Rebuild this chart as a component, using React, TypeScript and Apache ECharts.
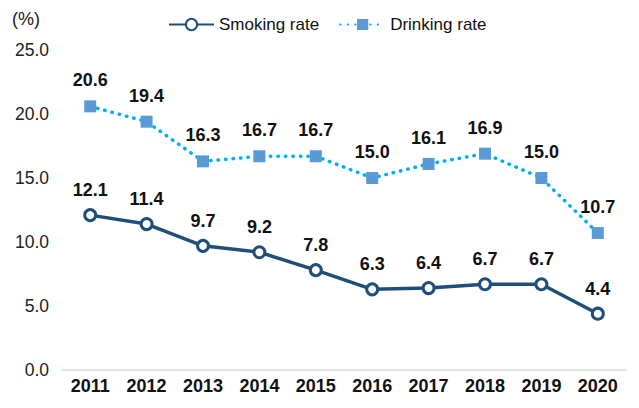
import React, { useEffect, useRef } from "react";
import * as echarts from "echarts";

const years = ["2011", "2012", "2013", "2014", "2015", "2016", "2017", "2018", "2019", "2020"];
const smoking = [12.1, 11.4, 9.7, 9.2, 7.8, 6.3, 6.4, 6.7, 6.7, 4.4];
const drinking = [20.6, 19.4, 16.3, 16.7, 16.7, 15.0, 16.1, 16.9, 15.0, 10.7];

export default function App() {
  const ref = useRef<HTMLDivElement>(null);
  useEffect(() => {
    const chart = echarts.init(ref.current!, null, { renderer: "svg" });
    const font = "'Liberation Sans', Arial, sans-serif";
    chart.setOption({
      animation: false,
      textStyle: { fontFamily: font },
      legend: {
        top: 11,
        left: 163,
        itemWidth: 45,
        itemHeight: 14,
        itemGap: 20,
        textStyle: { fontSize: 17, color: "#111", fontFamily: font },
        data: ["Smoking rate", "Drinking rate"],
      },
      graphic: [
        {
          type: "text",
          left: 12,
          top: 10,
          style: { text: "(%)", fontSize: 18, fill: "#222", fontFamily: font },
        },
      ],
      grid: { left: 62, right: 13, top: 50, bottom: 38 },
      xAxis: {
        type: "category",
        data: years,
        boundaryGap: true,
        axisLine: { lineStyle: { color: "#d9d9d9", width: 1.5 } },
        axisTick: { show: false },
        axisLabel: { fontSize: 18, fontWeight: "bold", color: "#111", margin: 7, fontFamily: font },
      },
      yAxis: {
        type: "value",
        min: 0,
        max: 25,
        interval: 5,
        splitLine: { show: false },
        axisLine: { show: false },
        axisTick: { show: false },
        axisLabel: {
          fontSize: 17.5,
          color: "#222",
          margin: 13,
          fontFamily: font,
          formatter: (v: number) => v.toFixed(1),
        },
      },
      series: [
        {
          name: "Smoking rate",
          type: "line",
          data: smoking,
          symbol: "circle",
          symbolSize: 11,
          itemStyle: { color: "#fff", borderColor: "#1F4E79", borderWidth: 3 },
          lineStyle: { color: "#1F4E79", width: 3.5 },
          label: {
            show: true,
            position: "top",
            distance: 9,
            fontSize: 18,
            fontWeight: "bold",
            color: "#111",
            fontFamily: font,
            formatter: (p: any) => p.value.toFixed(1),
          },
        },
        {
          name: "Drinking rate",
          type: "line",
          data: drinking,
          symbol: "rect",
          symbolSize: 12,
          itemStyle: { color: "#5B9BD5" },
          lineStyle: { color: "#00B0F0", width: 3.5, type: [0.5, 7], cap: "round" },
          label: {
            show: true,
            position: "top",
            distance: 11,
            fontSize: 18,
            fontWeight: "bold",
            color: "#111",
            fontFamily: font,
            formatter: (p: any) => p.value.toFixed(1),
          },
        },
      ],
    });
    return () => chart.dispose();
  }, []);
  return <div ref={ref} style={{ width: 639, height: 408, position: "absolute", left: 0, top: 0 }} />;
}
